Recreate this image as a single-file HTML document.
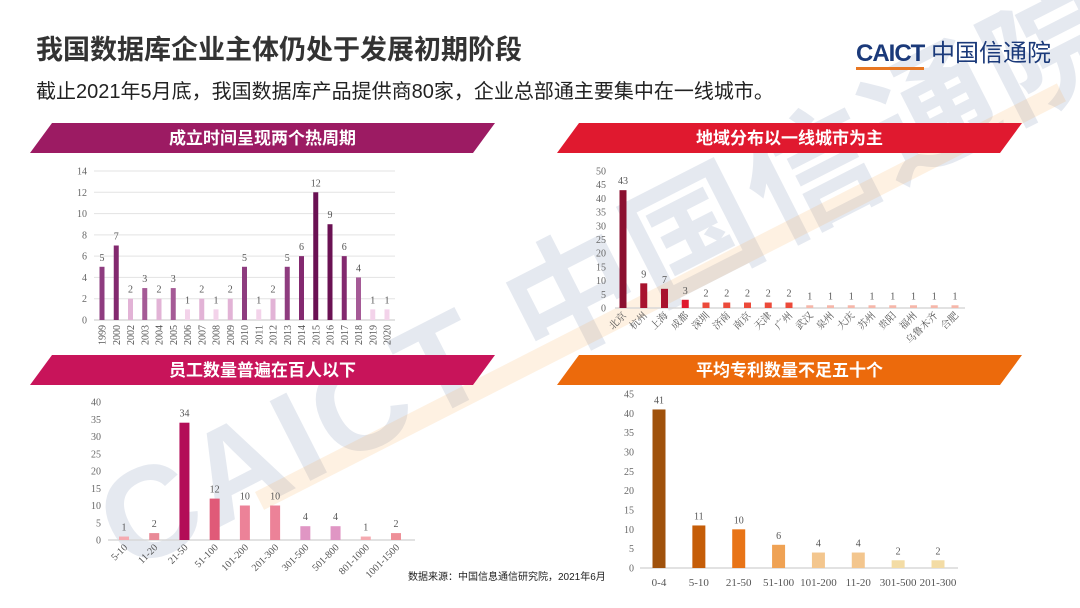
<!DOCTYPE html>
<html><head><meta charset="utf-8">
<style>
body{margin:0;background:#fff;}
#wrap{position:relative;width:1080px;height:608px;overflow:hidden;background:#fff;font-family:"Liberation Sans","Noto Sans CJK SC",sans-serif;}
.abs{position:absolute;}
svg text{font-family:"Liberation Serif","Noto Serif CJK SC",serif;}
</style></head><body>
<div id="wrap">
<div class="abs" style="left:60px;top:440px;width:1300px;transform:rotate(-27deg);transform-origin:left top;font-size:130px;font-weight:bold;color:rgba(40,70,130,0.12);white-space:nowrap;letter-spacing:4px;">CAICT 中国信通院</div>
<div class="abs" style="left:255px;top:492px;width:900px;height:20px;background:rgba(245,160,60,0.15);transform:rotate(-27deg);transform-origin:left top;"></div>
<div class="abs" style="left:36px;top:28px;font-size:27px;font-weight:bold;color:#333;">我国数据库企业主体仍处于发展初期阶段</div>
<div class="abs" style="left:856px;top:33px;font-size:24px;font-weight:bold;color:#1b3a7a;white-space:nowrap;"><span style="border-bottom:3px solid #e87722;letter-spacing:-1px;">CAICT</span> <span style="font-weight:normal;">中国信通院</span></div>
<div class="abs" style="left:36px;top:75px;font-size:20px;color:#222;">截止2021年5月底，我国数据库产品提供商80家，企业总部通主要集中在一线城市。</div>

<svg class="abs" style="left:0;top:0" width="1080" height="608" id="svg"></svg>
<div class="abs" style="left:408px;top:568px;font-size:10px;color:#222;">数据来源：中国信息通信研究院，2021年6月</div>
</div>
<script>
const c1Cats=["1999","2000","2002","2003","2004","2005","2006","2007","2008","2009","2010","2011","2012","2013","2014","2015","2016","2017","2018","2019","2020"];
const c1Vals=[5,7,2,3,2,3,1,2,1,2,5,1,2,5,6,12,9,6,4,1,1];
const c1Ticks=[0,2,4,6,8,10,12,14];
const c2Cats=["北京","杭州","上海","成都","深圳","济南","南京","天津","广州","武汉","泉州","大庆","苏州","贵阳","福州","乌鲁木齐","合肥"];
const c2Vals=[43,9,7,3,2,2,2,2,2,1,1,1,1,1,1,1,1];
const c2Ticks=[0,5,10,15,20,25,30,35,40,45,50];
const c3Cats=["5-10","11-20","21-50","51-100","101-200","201-300","301-500","501-800","801-1000","1001-1500"];
const c3Vals=[1,2,34,12,10,10,4,4,1,2];
const c3Ticks=[0,5,10,15,20,25,30,35,40];
const c4Cats=["0-4","5-10","21-50","51-100","101-200","11-20","301-500","201-300"];
const c4Vals=[41,11,10,6,4,4,2,2];
const c4Ticks=[0,5,10,15,20,25,30,35,40,45];

const svg=document.getElementById('svg');
const NS='http://www.w3.org/2000/svg';
function mk(tag,attrs,parent){const e=document.createElementNS(NS,tag);for(const k in attrs)e.setAttribute(k,attrs[k]);(parent||svg).appendChild(e);return e;}

function banner(x,y,w,color,text,name){
  const g=mk('g',{});
  
  
  mk('polygon',{points:`${x+22},${y} ${x+w},${y} ${x+w-22},${y+30} ${x},${y+30}`,fill:color},g);
  const t=mk('text',{x:x+w/2,y:y+21,'text-anchor':'middle','font-size':17,'font-weight':'bold',fill:'#fff',style:'font-family:"Liberation Sans","Noto Sans CJK SC",sans-serif'},g);
  t.textContent=text;
}
banner(30,123,465,'#9c1b63','成立时间呈现两个热周期','banner-founding-time');
banner(557,123,465,'#e0192f','地域分布以一线城市为主','banner-region');
banner(30,355,465,'#c8145a','员工数量普遍在百人以下','banner-employees');
banner(557,355,465,'#ec6a0c','平均专利数量不足五十个','banner-patents');

function chart(o){
  const g=mk('g',{});
  
  
  const max=o.ticks[o.ticks.length-1];
  const y=v=>o.bottom-(v/max)*(o.bottom-o.top);
  const step=(o.xLast-o.xFirst)/(o.cats.length-1);
  const x=i=>o.xFirst+i*step;
  o.ticks.forEach(t=>{
    if(o.grid&&t>0){const l=mk('line',{x1:o.ax1,x2:o.ax2,y1:y(t),y2:y(t),stroke:'#e3e3e3','stroke-width':1},g);}
    const tx=mk('text',{x:o.tickX,y:y(t)+3.5,'text-anchor':'end','font-size':10,fill:'#666'},g);
    
    
    tx.textContent=t;
  });
  const ax=mk('line',{x1:o.ax1,x2:o.ax2,y1:o.bottom,y2:o.bottom,stroke:'#d8d8d8','stroke-width':1.5},g);
  
  
  o.vals.forEach((v,i)=>{
    const r=mk('rect',{x:x(i)-o.bw/2,y:y(v),width:o.bw,height:o.bottom-y(v),fill:o.color(v,i)},g);
    
    
    const lb=mk('text',{x:x(i),y:y(v)-6,'text-anchor':'middle','font-size':o.lfs||10,fill:'#555'},g);
    
    
    lb.textContent=v;
    let cl;
    if(o.rot===-90){cl=mk('text',{transform:`translate(${x(i)+3.5},${o.bottom+5}) rotate(-90)`,'text-anchor':'end','font-size':10,fill:'#555'},g);}
    else if(o.rot===-45){cl=mk('text',{transform:`translate(${x(i)+4},${o.bottom+8}) rotate(-45)`,'text-anchor':'end','font-size':o.cfs||10,fill:'#555'},g);}
    else{cl=mk('text',{x:x(i),y:o.bottom+18,'text-anchor':'middle','font-size':11,fill:'#555'},g);}
    
    
    cl.textContent=o.cats[i];
  });
}
function c1col(v){if(v>=9)return '#6a1153';if(v>=6)return '#83296f';if(v>=5)return '#8e3c7f';if(v>=3)return '#a55a96';if(v>=2)return '#e2b3d6';return '#f3d3ea';}
chart({name:'chart-founding-year',cats:c1Cats,vals:c1Vals,ticks:c1Ticks,top:171,bottom:320,xFirst:102,xLast:387,bw:5,tickX:87,ax1:94,ax2:395,grid:true,rot:-90,color:c1col});
function c2col(v){if(v>=40)return '#8b1030';if(v>=7)return '#a8132e';if(v>=3)return '#e0192f';if(v>=2)return '#ec4a3a';return '#f6b7aa';}
chart({name:'chart-region',cats:c2Cats,vals:c2Vals,ticks:c2Ticks,top:171,bottom:308,xFirst:623,xLast:955,bw:7,tickX:606,ax1:615,ax2:965,grid:false,rot:-45,cfs:10,color:c2col});
const c3cols=['#f5aab0','#e98a97','#b30d57','#e05a78','#ec8298','#ec8298','#e096c4','#e096c4','#f5aab0','#ee9098'];
chart({name:'chart-employees',cats:c3Cats,vals:c3Vals,ticks:c3Ticks,top:402,bottom:540,xFirst:124,xLast:396,bw:10,tickX:101,ax1:108,ax2:415,grid:false,rot:-45,cfs:10,color:(v,i)=>c3cols[i]});
const c4cols=['#a0520c','#c55d08','#e87417','#efa254','#f3c68e','#f3c68e','#f3dca5','#f3dca5'];
chart({name:'chart-patents',cats:c4Cats,vals:c4Vals,ticks:c4Ticks,top:394,bottom:568,xFirst:659,xLast:938,bw:13,tickX:634,ax1:640,ax2:958,grid:false,rot:0,color:(v,i)=>c4cols[i]});
</script>
</body></html>
